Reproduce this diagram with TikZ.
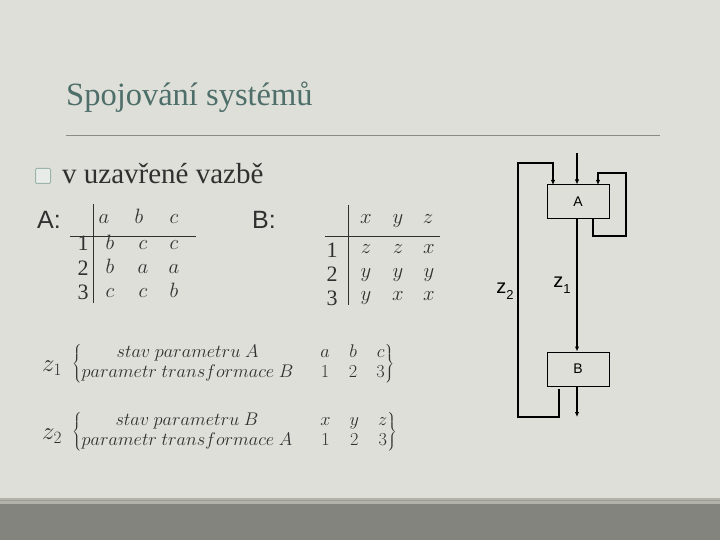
\documentclass[tikz,border=0pt]{standalone}
\usepackage{fontspec}
\setmainfont{Liberation Serif}
\newfontfamily\arialfont{Liberation Sans}
\usetikzlibrary{arrows.meta}
\definecolor{bg}{HTML}{DFDFD9}
\definecolor{titlec}{HTML}{4E6E6A}
\definecolor{barc}{HTML}{83847D}
\definecolor{stripc}{HTML}{B2B2AA}
\definecolor{rulec}{HTML}{8A8A86}
\definecolor{txt}{HTML}{303030}
\definecolor{bulfill}{HTML}{E8ECE8}
\definecolor{buldraw}{HTML}{9DB4AD}
\tikzset{
  cell/.style={anchor=base, inner sep=0, text=txt, font=\fontsize{20}{20}\selectfont},
  num/.style={cell, font=\fontsize{22}{22}\selectfont},
  tline/.style={line width=0.9pt, draw=txt},
  blk/.style={draw=black, line width=1pt, minimum width=62pt, minimum height=34pt, inner sep=0, font=\arialfont\fontsize{14}{14}\selectfont},
  wire/.style={draw=black, line width=1.2pt},
  arr/.style={wire, -{Latex[length=5pt,width=4.5pt]}},
  zlab/.style={inner sep=0, font=\arialfont\fontsize{20}{20}\selectfont},
  formula/.style={anchor=west, inner sep=0, text=txt, font=\fontsize{17.28}{17.28}\selectfont, scale=1.06, transform shape}
}
\begin{document}
\begin{tikzpicture}[x=1pt,y=-1pt]
\fill[bg] (0,0) rectangle (720,540);
\useasboundingbox (0,0) rectangle (720,540);
\fill[stripc] (0,498) rectangle (720,504);
\draw[barc!80, line width=0.6pt] (0,500.5) -- (720,500.5);
\fill[barc] (0,504) rectangle (720,540);

% title
\node[anchor=base west, inner sep=0, text=titlec, font=\fontsize{32.5}{32.5}\selectfont] (title) at (66,106) {Spojování systémů};
\draw[rulec, line width=1pt] (66,136) coordinate (r1) -- (660,136) coordinate (r2);

% bullet
\node[draw=buldraw, fill=bulfill, line width=1pt, minimum size=15pt, inner sep=0, rounded corners=1pt] (bul) at (43,176) {};
\node[anchor=base west, inner sep=0, text=txt, font=\fontsize{29}{29}\selectfont] (sub) at (62,184) {v uzavřené vazbě};

% table A
\node[anchor=base west, inner sep=0, text=txt, font=\arialfont\fontsize{25}{25}\selectfont] (Alab) at (37,229) {A:};
\draw[tline] (93,204) coordinate (av1) -- (93,303) coordinate (av2);
\draw[tline] (70,236) coordinate (ah1) -- (196,236) coordinate (ah2);
\node[cell] (ha1) at (104,224) {$a$};
\node[cell] (ha2) at (139,224) {$b$};
\node[cell] (ha3) at (174,224) {$c$};
\node[num] (ra1) at (83,251) {1};
\node[num] (ra2) at (83,275) {2};
\node[num] (ra3) at (83,299) {3};
\node[cell] (a11) at (110,249) {$b$};
\node[cell] (a12) at (143,249) {$c$};
\node[cell] (a13) at (174,249) {$c$};
\node[cell] (a21) at (110,273) {$b$};
\node[cell] (a22) at (143,273) {$a$};
\node[cell] (a23) at (174,273) {$a$};
\node[cell] (a31) at (110,297) {$c$};
\node[cell] (a32) at (143,297) {$c$};
\node[cell] (a33) at (174,297) {$b$};

% table B
\node[anchor=base west, inner sep=0, text=txt, font=\arialfont\fontsize{25}{25}\selectfont] (Blab) at (252,229) {B:};
\draw[tline] (348,205) coordinate (bv1) -- (348,305) coordinate (bv2);
\draw[tline] (325,236) coordinate (bh1) -- (440,236) coordinate (bh2);
\node[cell] (hb1) at (366,224) {$x$};
\node[cell] (hb2) at (398,224) {$y$};
\node[cell] (hb3) at (428,224) {$z$};
\node[num] (rb1) at (332,257) {1};
\node[num] (rb2) at (332,281) {2};
\node[num] (rb3) at (332,305) {3};
\node[cell] (b11) at (366,254) {$z$};
\node[cell] (b12) at (398,254) {$z$};
\node[cell] (b13) at (429,254) {$x$};
\node[cell] (b21) at (366,277) {$y$};
\node[cell] (b22) at (398,277) {$y$};
\node[cell] (b23) at (429,277) {$y$};
\node[cell] (b31) at (366,300) {$y$};
\node[cell] (b32) at (398,300) {$x$};
\node[cell] (b33) at (429,300) {$x$};

% block diagram
\node[blk] (A) at (578,202) {A};
\node[blk] (B) at (578,369) {B};
\coordinate (inp) at (577,153);
\draw[arr] (inp) -- (inp |- A.north);
\draw[arr] (A.south -| inp) -- (B.north -| inp);
\coordinate (outp) at (577,417);
\draw[arr] (B.south -| outp) -- (outp);
% left feedback loop
\coordinate (lb) at (559,389);
\coordinate (lc1) at (518,417);
\coordinate (lc2) at (553,163);
\coordinate (la) at (553,185);
\draw[arr] (lb) |- (lc1) |- (lc2) -- (la);
% right self loop
\coordinate (rb) at (593,219);
\coordinate (rc1) at (626,236);
\coordinate (rc2) at (598,173);
\coordinate (ra) at (598,185);
\draw[arr] (rb) |- (rc1) |- (rc2) -- (ra);
\node[zlab] (z2) at (505,291) {z\raisebox{-0.3em}{\fontsize{13}{13}\selectfont 2}};
\node[zlab] (z1) at (562,285) {z\raisebox{-0.3em}{\fontsize{13}{13}\selectfont 1}};

% formulas
\node[anchor=west, inner sep=0, text=txt, font=\fontsize{24}{24}\selectfont] (fz1) at (42,368) {$z_1$};
\node[formula] (p1) at (72,364) {$\left\{\begin{array}{@{}c@{}} stav\ parametru\ A\\[2pt] parametr\ transformace\ B\end{array}\right.$};
\node[formula] (v1) at (319,364) {$\left.\begin{array}{@{}c@{\hspace{18pt}}c@{\hspace{18pt}}c@{}} a&b&c\\[2pt] 1&2&3\end{array}\right\}$};
\node[anchor=west, inner sep=0, text=txt, font=\fontsize{24}{24}\selectfont] (fz2) at (42,436) {$z_2$};
\node[formula] (p2) at (72,432) {$\left\{\begin{array}{@{}c@{}} stav\ parametru\ B\\[2pt] parametr\ transformace\ A\end{array}\right.$};
\node[formula] (v2) at (319,432) {$\left.\begin{array}{@{}c@{\hspace{18pt}}c@{\hspace{18pt}}c@{}} x&y&z\\[2pt] 1&2&3\end{array}\right\}$};
\end{tikzpicture}
\end{document}
